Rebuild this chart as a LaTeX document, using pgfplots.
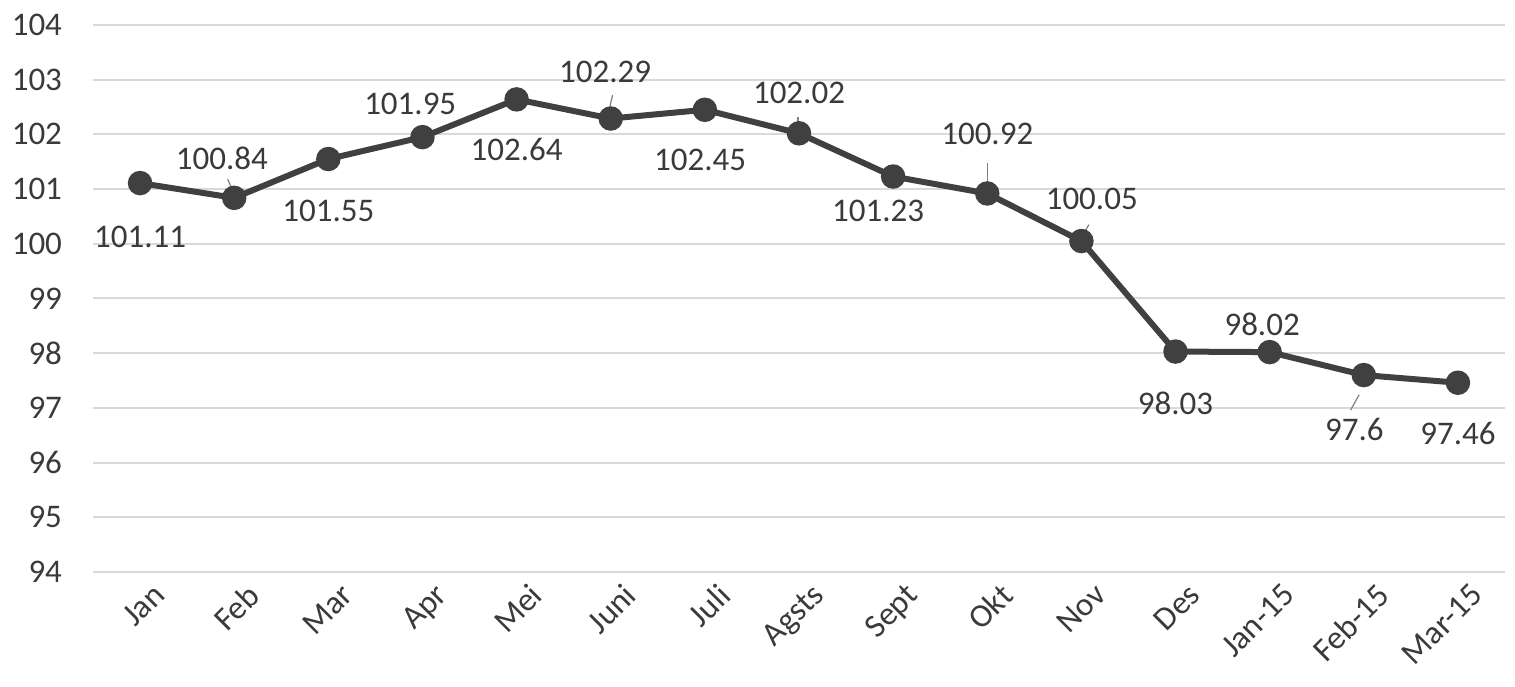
\documentclass[border=0pt]{standalone}
\usepackage{pgfplots}
\pgfplotsset{compat=1.18}
\usepackage{fontspec}
\setmainfont{Carlito}
\definecolor{serie}{HTML}{404040}
\definecolor{txt}{HTML}{3A3A3A}
\definecolor{gridc}{HTML}{D9D9D9}
\begin{document}
\begin{tikzpicture}
\useasboundingbox (-46.5bp,-57.5bp) rectangle (711bp,286bp);
\begin{axis}[
    scale only axis,
    width=706bp,
    height=273.5bp,
    xmin=-0.5, xmax=14.5,
    ymin=94, ymax=104,
    ytick={94,95,...,104},
    xtick={0,...,14},
    xticklabels={Jan,Feb,Mar,Apr,Mei,Juni,Juli,Agsts,Sept,Okt,Nov,Des,Jan-15,Feb-15,Mar-15},
    axis line style={draw=none},
    major tick length=0pt,
    ymajorgrids,
    grid style={line width=1bp, draw=gridc},
    font=\fontsize{16.5bp}{19bp}\selectfont,
    tick label style={text=txt},
    /pgf/number format/assume math mode=true,
    yticklabel style={xshift=-12bp},
    xticklabel style={rotate=45, anchor=north east, xshift=4bp, yshift=-4bp},
    clip=false,
]
\addplot[serie, line width=3bp, mark=*, mark size=4.6bp, mark options={fill=serie, draw=serie}]
coordinates {
    (0,101.11) (1,100.84) (2,101.55) (3,101.95) (4,102.64)
    (5,102.29) (6,102.45) (7,102.02) (8,101.23) (9,100.92)
    (10,100.05) (11,98.03) (12,98.02) (13,97.6) (14,97.46)
};
% leader lines
\draw[gray, line width=0.6bp] (axis cs:0.93,101.18) -- (axis cs:0.99,100.96);
\draw[gray, line width=0.6bp] (axis cs:5.02,102.72) -- (axis cs:4.98,102.43);
\draw[gray, line width=0.6bp] (axis cs:6.99,102.32) -- (axis cs:6.99,102.16);
\draw[gray, line width=0.6bp] (axis cs:9,101.47) -- (axis cs:9,101.06);
\draw[gray, line width=0.6bp] (axis cs:10.08,100.35) -- (axis cs:10.02,100.18);
\draw[gray, line width=0.6bp] (axis cs:12.86,96.96) -- (axis cs:12.95,97.24);
% data labels
\begin{scope}[every node/.style={text=txt, inner sep=0pt}]
\node at (axis cs:0,100.12) {101.11};
\node at (axis cs:0.87,101.57) {100.84};
\node at (axis cs:2,100.60) {101.55};
\node at (axis cs:2.87,102.56) {101.95};
\node at (axis cs:4,101.73) {102.64};
\node at (axis cs:4.94,103.14) {102.29};
\node at (axis cs:5.95,101.53) {102.45};
\node at (axis cs:7,102.76) {102.02};
\node at (axis cs:7.84,100.60) {101.23};
\node at (axis cs:9,102.01) {100.92};
\node at (axis cs:10.11,100.82) {100.05};
\node at (axis cs:11,97.09) {98.03};
\node at (axis cs:11.92,98.52) {98.02};
\node at (axis cs:12.90,96.60) {97.6};
\node at (axis cs:14,96.54) {97.46};
\end{scope}
\end{axis}
\end{tikzpicture}
\end{document}
